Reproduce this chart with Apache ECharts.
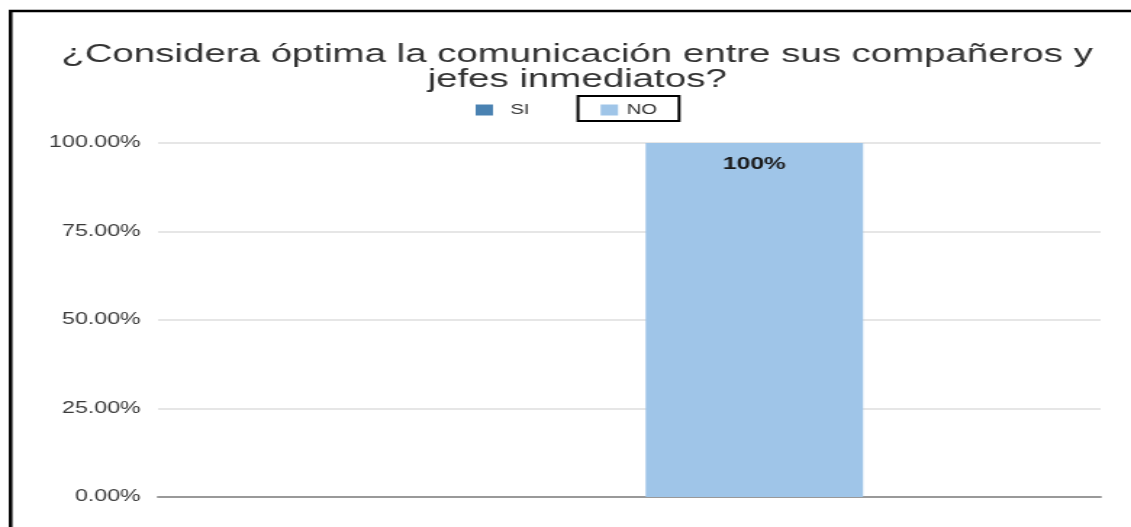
<!DOCTYPE html>
<html>
<head>
<meta charset="utf-8">
<script src="https://cdn.jsdelivr.net/npm/echarts@6/dist/echarts.min.js"></script>
<style>
  html, body { margin: 0; padding: 0; background: #ffffff; overflow: hidden; }
  /* the chart is laid out narrower and widened, giving the broad lettering */
  #chart { width: 780px; height: 527px; transform: scaleX(1.45); transform-origin: 0 0; }
</style>
</head>
<body>
<div id="chart"></div>
<script>
// Survey answer shares, in percent
const titleText = '¿Considera óptima la comunicación entre sus compañeros y\njefes inmediatos?';
const categories = ['Respuestas'];
const seriesNames = ['SI', 'NO'];
const valuesSI = [0];
const valuesNO = [100];
const yTicks = [0, 25, 50, 75, 100];

const FONT = '"Liberation Sans", Arial, sans-serif';

const chart = echarts.init(document.getElementById('chart'), null, { renderer: 'canvas' });

chart.setOption({
  animation: false,
  backgroundColor: '#ffffff',
  title: {
    text: titleText,
    left: 393,
    top: 37,
    textAlign: 'center',
    textStyle: {
      fontFamily: FONT,
      fontSize: 26.5,
      fontWeight: 'normal',
      color: '#333333',
      lineHeight: 25
    }
  },
  legend: {
    data: [
      { name: seriesNames[0] },
      { name: seriesNames[1], textStyle: { padding: [0, 0, 0, 1] } }
    ],
    left: 328,
    top: 103,
    padding: 0,
    itemWidth: 12,
    itemHeight: 11,
    itemGap: 49,
    icon: 'rect',
    textStyle: { fontFamily: FONT, fontSize: 14, color: '#333333', padding: [0, 0, 0, 7] }
  },
  grid: {
    left: 109,
    right: 21,
    top: 143,
    bottom: 30,
    containLabel: false
  },
  xAxis: {
    type: 'category',
    data: categories,
    axisLine: { show: true, lineStyle: { color: '#999999', width: 2 } },
    axisTick: { show: false },
    axisLabel: { show: false }
  },
  yAxis: {
    type: 'value',
    min: yTicks[0],
    max: yTicks[yTicks.length - 1],
    interval: yTicks[1] - yTicks[0],
    axisLine: { show: false },
    axisTick: { show: false },
    splitLine: { lineStyle: { color: '#dedede', width: 1.5 } },
    axisLabel: {
      margin: 12,
      fontFamily: FONT,
      fontSize: 16,
      color: '#3a3a3a',
      formatter: v => v.toFixed(2) + '%'
    }
  },
  series: [
    {
      name: seriesNames[0],
      type: 'bar',
      data: valuesSI,
      barWidth: 150,
      barGap: '15%',
      itemStyle: { color: '#4a82b2' }
    },
    {
      name: seriesNames[1],
      type: 'bar',
      data: valuesNO,
      barWidth: 150,
      barGap: '15%',
      itemStyle: { color: '#9fc5e8' },
      label: {
        show: true,
        position: 'insideTop',
        distance: 13,
        fontFamily: FONT,
        fontSize: 17,
        fontWeight: 'bold',
        color: '#1a1a1a',
        formatter: p => p.value + '%'
      }
    }
  ],
  graphic: [
    {
      // outer frame
      type: 'rect',
      silent: true,
      shape: { x: 7.3, y: 11, width: 900, height: 700 },
      style: { fill: 'none', stroke: '#000000', lineWidth: 2.5 }
    },
    {
      // box around the NO legend entry
      type: 'rect',
      silent: true,
      shape: { x: 398.6, y: 96, width: 69.7, height: 25 },
      style: { fill: 'none', stroke: '#000000', lineWidth: 2 }
    }
  ]
});
</script>
</body>
</html>
